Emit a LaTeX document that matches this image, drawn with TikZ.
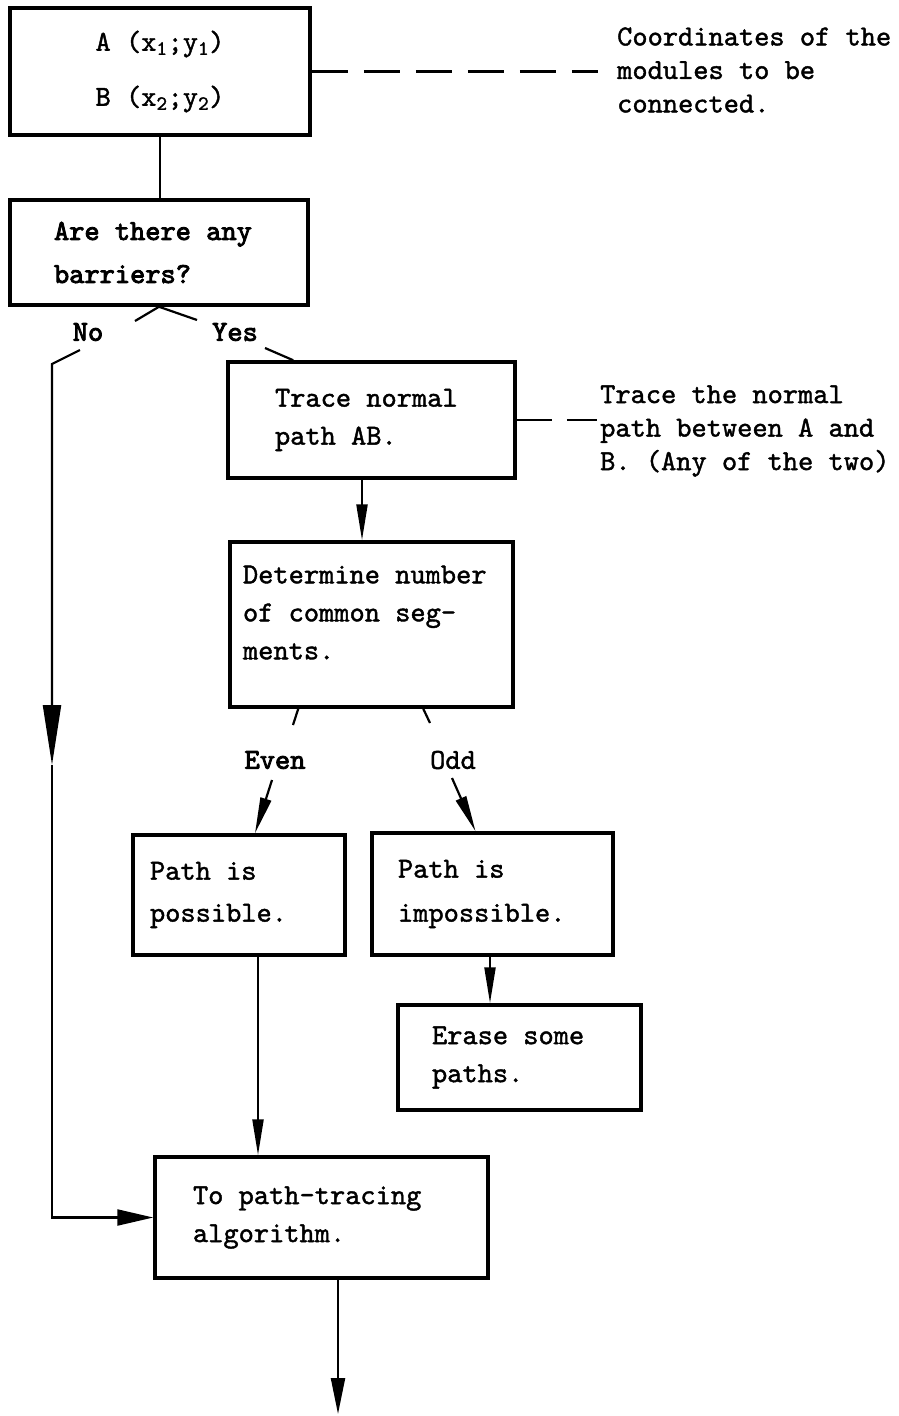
\documentclass[tikz,border=0pt]{standalone}
\usepackage{fontspec}
\setmonofont{lmmono10-regular.otf}[FakeBold=1.4, BoldFont=lmmono10-regular.otf, BoldFeatures={FakeBold=3}]
\usetikzlibrary{arrows.meta,positioning,calc}

\newcommand{\boxfont}{\ttfamily\fontsize{29}{38}\selectfont}
\newcommand{\notefont}{\ttfamily\fontsize{29}{33.5}\selectfont}
\newcommand{\fixspace}{\spaceskip=0.525em\relax\xspaceskip=0.525em\relax}

\tikzset{
  box/.style={draw, line width=3.5pt, rectangle, align=left, inner ysep=0pt, font=\boxfont,
    execute at begin node=\fixspace},
  lbl/.style={font=\boxfont, inner sep=0pt},
  note/.style={align=left, inner sep=0pt, font=\notefont, execute at begin node=\fixspace},
  link/.style={line width=2.2pt},
  lead/.style={line width=2.2pt, dash pattern=on 36pt off 16pt},
}

\begin{document}
\begin{tikzpicture}[x=1pt, y=-1pt, >={Triangle[length=36pt,width=11pt]}]

    \useasboundingbox (0,0) rectangle (899,1416);

    % Modules A and B
    \node[box, align=center, text width=260pt, inner xsep=20pt, minimum height=127pt] (ab) at (160,71.5)
        {A (x\textsubscript{1};y\textsubscript{1})\\[17pt] B (x\textsubscript{2};y\textsubscript{2})};
    \node[note, anchor=west] (note1) at (617,70)
        {Coordinates of the\\modules to be\\connected.};
    \draw[lead] (ab.east) -- (ab.east -| note1.west) [shorten >=19pt];

    % Barrier test
    \node[box, text width=210pt, inner xsep=44pt, minimum height=105pt] (barr) at (159,252.5)
        {\bfseries Are there any\\[5pt]\bfseries barriers?};
    \draw[link] (ab.south) -- (ab.south |- barr.north);

    \node[lbl, font=\boxfont\bfseries] (no) at (88,332) {No};
    \node[lbl, font=\boxfont\bfseries] (yes) at (235,332) {Yes};

    % Normal path
    \node[box, text width=193pt, inner xsep=47pt, minimum height=116pt] (trace) at (371.5,420)
        {Trace normal\\path AB.};
    \node[note, anchor=west] (note2) at (600,431)
        {Trace the normal\\path between A and\\B. (Any of the two)};
    \draw[lead, dash pattern=on 35pt off 15pt] (trace.east) -- (trace.east -| note2.west) [shorten >=3pt];

    % Common segments
    \node[box, text width=257pt, inner xsep=13pt, minimum height=165pt] (det) at (371.5,624.5)
        {Determine number\\of common seg-\\ments.\\[-14pt]\mbox{}};

    \node[lbl] (even) at (275,760) {\bfseries Even};
    \node[lbl] (odd) at (453,760) {Odd};

    % Outcomes
    \node[box, text width=178pt, inner xsep=17pt, minimum height=120pt] (poss) at (239,895)
        {Path is\\[4pt]possible.};
    \node[box, text width=189pt, inner xsep=26pt, minimum height=122pt] (imposs) at (492.5,894)
        {Path is\\[6pt]impossible.};
    \node[box, text width=175pt, inner xsep=34pt, minimum height=105pt] (erase) at (519.5,1057.5)
        {Erase some\\paths.};
    \node[box, text width=257pt, inner xsep=38pt, minimum height=121pt] (algo) at (321.5,1217.5)
        {To path-tracing\\algorithm.};

    % Yes / No branches
    \coordinate (noA) at (135,321);
    \coordinate (noB) at (80,350);
    \coordinate (noC) at (52,364);
    \coordinate (nomid) at (52,765);
    \coordinate (yesA) at (197,320);
    \coordinate (yesB) at (265,348);
    \draw[link] (barr.south) -- (noA);
    \draw[link] (barr.south) -- (yesA);
    \draw[link, -{Triangle[length=60pt,width=18pt]}] (noB) -- (noC) -- (nomid);
    \draw[link, -{Triangle[length=36pt,width=16pt]}] (nomid) -- (noC |- algo.west) -- (algo.west);
    \draw[link] (yesB) -- ($(trace.north west)+(67,0)$);

    \draw[link, ->] ([xshift=-9.5pt]trace.south) -- ([xshift=-9.5pt]det.north);

    % Even / Odd branches
    \coordinate (evA) at ($(det.south west)+(70,0)$);
    \coordinate (evB) at (293,725);
    \coordinate (evC) at (272,780);
    \coordinate (odA) at ($(det.south west)+(195,0)$);
    \coordinate (odB) at (430,723);
    \coordinate (odC) at (452,778);
    \draw[link] (evA) -- (evB);
    \draw[link] (odA) -- (odB);
    \draw[link, ->] (evC) -- ([xshift=16pt]poss.north);
    \draw[link, ->] (odC) -- ([xshift=-17pt]imposs.north);

    \draw[link, ->] ([xshift=-2.5pt]imposs.south) -- ([xshift=-2.5pt]imposs.south |- erase.north);
    \draw[link, ->] ([xshift=19pt]poss.south) -- ([xshift=19pt]poss.south |- algo.north);

    % Exit
    \coordinate (out) at (338,1414);
    \draw[link, -{Triangle[length=36pt,width=14pt]}] ([xshift=16.5pt]algo.south) -- (out);

\end{tikzpicture}
\end{document}
